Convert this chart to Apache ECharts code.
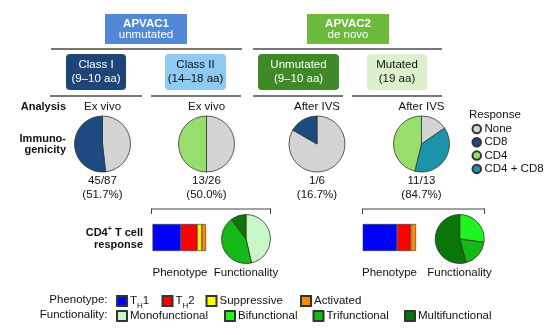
<!DOCTYPE html>
<html><head><meta charset="utf-8">
<script src="https://cdn.jsdelivr.net/npm/echarts@6/dist/echarts.min.js"></script>
<style>html,body{margin:0;padding:0;background:#fff}#c{width:554px;height:335px}</style>
</head><body><div id="c"></div>
<script>
// ---------- data ----------
const vaccines = ['APVAC1', 'APVAC2'];
const vaccineSubs = ['unmutated', 'de novo'];
const groupTitles = ['Class I', 'Class II', 'Unmutated', 'Mutated'];
const groupLengths = ['(9–10 aa)', '(14–18 aa)', '(9–10 aa)', '(19 aa)'];
const analysisLabels = ['Ex vivo', 'Ex vivo', 'After IVS', 'After IVS'];
const fractionLabels = ['45/87', '13/26', '1/6', '11/13'];
const percentLabels = ['(51.7%)', '(50.0%)', '(16.7%)', '(84.7%)'];

const responseNames = ['None', 'CD8', 'CD4', 'CD4 + CD8'];
// slices listed clockwise from 12 o'clock
const classINames = ['None', 'CD8'];
const classIValues = [42, 45];
const classIINames = ['None', 'CD4'];
const classIIValues = [13, 13];
const unmutatedNames = ['None', 'CD8'];
const unmutatedValues = [5, 1];
const mutatedNames = ['None', 'CD4 + CD8', 'CD4'];
const mutatedValues = [2, 5, 6];

const phenotypeNames = ['TH1', 'TH2', 'Suppressive', 'Activated'];
const phenotypeClassII = [52.9, 30.9, 8.2, 8.0];
const phenotypeMutated = [64.4, 25.6, 0, 10.0];

const functionalityNames = ['Monofunctional', 'Bifunctional', 'Trifunctional', 'Multifunctional'];
const funcClassIINames = ['Monofunctional', 'Trifunctional', 'Multifunctional'];
const funcClassIIValues = [46.4, 43.3, 10.3];
const funcMutatedNames = ['Bifunctional', 'Trifunctional', 'Multifunctional'];
const funcMutatedValues = [27.2, 18.6, 54.2];

// ---------- styles ----------
const FONT = '"Liberation Sans", Arial, Helvetica, sans-serif';
const colors = {
  'None': '#d4d4d4', 'CD8': '#1d4a80', 'CD4': '#98de6c', 'CD4 + CD8': '#1a93ab',
  'TH1': '#0000ff', 'TH2': '#ff0000', 'Suppressive': '#ffff00', 'Activated': '#ff8a00',
  'Monofunctional': '#c8f7c8', 'Bifunctional': '#1ef51e', 'Trifunctional': '#15b915', 'Multifunctional': '#0a760a'
};
const EDGE = '#333';

const chart = echarts.init(document.getElementById('c'), null, {renderer: 'canvas', width: 554, height: 335});

function pieSeries(names, values, cx, cy, r) {
  return {
    type: 'pie', radius: r, center: [cx, cy], startAngle: 90, clockwise: true,
    silent: true, animation: false, label: {show: false}, labelLine: {show: false},
    itemStyle: {borderColor: EDGE, borderWidth: 0.8},
    emphasis: {disabled: true},
    data: names.map((n, i) => ({name: n, value: values[i], itemStyle: {color: colors[n]}}))
  };
}
function barSeries(values, gridIdx) {
  return phenotypeNames.map((n, i) => ({
    type: 'bar', name: n, stack: 'p' + gridIdx, xAxisIndex: gridIdx, yAxisIndex: gridIdx,
    barWidth: '100%', silent: true, animation: false,
    itemStyle: {color: colors[n], borderColor: EDGE, borderWidth: 0.6},
    data: [values[i] > 0 ? values[i] : '-']
  }));
}

const pieX = [102.5, 206.5, 317, 421.5];
const pieY = 144;
const series = [
  pieSeries(classINames, classIValues, pieX[0], pieY, 28),
  pieSeries(classIINames, classIIValues, pieX[1], pieY, 28),
  pieSeries(unmutatedNames, unmutatedValues, pieX[2], pieY, 28),
  pieSeries(mutatedNames, mutatedValues, pieX[3], pieY, 28),
  pieSeries(funcClassIINames, funcClassIIValues, 246, 239, 24.5),
  pieSeries(funcMutatedNames, funcMutatedValues, 459.7, 239, 24.5),
  ...barSeries(phenotypeClassII, 0),
  ...barSeries(phenotypeMutated, 1)
];

// ---------- graphic (layout text / boxes / rules) ----------
const g = [];
function txt(x, y, text, opt = {}) {
  g.push({type: 'text', x: x, y: y, silent: true, style: Object.assign({
    text: text, fill: opt.fill || '#111', font: (opt.weight || 'normal') + ' ' + (opt.size || 11.5) + 'px ' + FONT,
    align: opt.align || 'center', verticalAlign: 'middle'
  }, opt.rich ? {rich: opt.rich} : {})});
}
function rect(x, y, w, h, fill, r = 0) {
  g.push({type: 'rect', silent: true, shape: {x, y, width: w, height: h, r}, style: {fill}});
}
function line(x1, y1, x2, y2, stroke = '#4a4a4a', w = 1.5) {
  g.push({type: 'line', silent: true, shape: {x1, y1, x2, y2}, style: {stroke, lineWidth: w}});
}
// vaccine headers
rect(105, 14, 82, 30, '#5289d6');
rect(307, 14, 82, 30, '#6cbb3c');
txt(146, 23.5, vaccines[0], {fill: '#fff', weight: 'bold', size: 11.5});
txt(146, 35, vaccineSubs[0], {fill: '#fff'});
txt(348, 23.5, vaccines[1], {fill: '#fff', weight: 'bold', size: 11.5});
txt(348, 35, vaccineSubs[1], {fill: '#fff'});
line(51, 49, 242, 49);
line(253, 49, 442, 49);
// group boxes
const gbx = [[66, 60, '#1e4577', '#fff'], [165, 61, '#8fcaf2', '#111'], [258, 81, '#3f8a26', '#fff'], [367, 60, '#dcf0cd', '#111']];
gbx.forEach((b, i) => {
  rect(b[0], 54, b[1], 36, b[2], 4);
  txt(b[0] + b[1] / 2, 65, groupTitles[i], {fill: b[3]});
  txt(b[0] + b[1] / 2, 78.5, groupLengths[i], {fill: b[3]});
});
line(50, 96, 142, 96); line(151, 96, 241, 96); line(253, 96, 343, 96); line(352, 96, 442, 96);
// row labels
txt(66, 106.5, 'Analysis', {weight: 'bold', size: 11, align: 'right'});
txt(66, 138.5, 'Immuno-', {weight: 'bold', size: 11, align: 'right'});
txt(66, 150, 'genicity', {weight: 'bold', size: 11, align: 'right'});
pieX.forEach((x, i) => {
  txt(x, 106.5, analysisLabels[i]);
  txt(x, 181, fractionLabels[i]);
  txt(x, 194.5, percentLabels[i]);
});
// response legend title
txt(469, 115, 'Response', {align: 'left'});
// brackets
[[151.5, 270.5], [362.5, 484.5]].forEach(b => {
  line(b[0], 209, b[1], 209, '#444', 1);
  line(b[0], 208.5, b[0], 214, '#444', 1);
  line(b[1], 208.5, b[1], 214, '#444', 1);
});
// CD4 T cell response
g.push({type: 'text', x: 143, y: 233, silent: true, style: {
  text: '{b|CD4}{sup|+}{b| T cell}', align: 'right', verticalAlign: 'middle',
  rich: {b: {font: 'bold 11px ' + FONT, fill: '#111', lineHeight: 14},
         sup: {font: 'bold 7px ' + FONT, fill: '#111', verticalAlign: 'top', lineHeight: 14}}
}});
txt(143, 244.5, 'response', {weight: 'bold', size: 11, align: 'right'});
txt(180, 273, 'Phenotype'); txt(246, 273, 'Functionality');
txt(389.5, 273, 'Phenotype'); txt(459.5, 273, 'Functionality');
// bottom legend labels
txt(107.5, 300, 'Phenotype:', {align: 'right'});
txt(107.5, 315, 'Functionality:', {align: 'right'});

// ---------- legends ----------
const legends = [{
  orient: 'vertical', left: 471.5, top: 123, padding: 0, itemGap: 1.3,
  itemWidth: 8.5, itemHeight: 8.5, icon: 'circle', selectedMode: false,
  data: responseNames,
  textStyle: {fontFamily: FONT, fontSize: 11.5, color: '#111', lineHeight: 12, padding: [0, 0, 0, -1.5]}
}];
const richTH = {n: {fontFamily: FONT, fontSize: 11.5, color: '#111', lineHeight: 14},
  s: {fontFamily: FONT, fontSize: 8, color: '#111', lineHeight: 14, verticalAlign: 'bottom', padding: [0, 0, -2, 0]}};
const phenoLegendX = [116, 161.5, 205.5, 300];
phenotypeNames.forEach((n, i) => legends.push({
  left: phenoLegendX[i], top: 295, padding: 0, itemWidth: 10, itemHeight: 10, icon: 'rect', selectedMode: false,
  data: [n],
  formatter: nm => nm === 'TH1' ? '{n|T}{s|H}{n|1}' : nm === 'TH2' ? '{n|T}{s|H}{n|2}' : '{n|' + nm + '}',
  textStyle: {fontFamily: FONT, fontSize: 11.5, color: '#111', padding: [0, 0, 0, -2], rich: richTH}
}));
const funcLegendX = [116, 224, 312.5, 404];
functionalityNames.forEach((n, i) => legends.push({
  left: funcLegendX[i], top: 310, padding: 0, itemWidth: 10, itemHeight: 10, icon: 'rect', selectedMode: false,
  data: [n],
  textStyle: {fontFamily: FONT, fontSize: 11.5, color: '#111', padding: [0, 0, 0, -2]}
}));

chart.setOption({
  animation: false,
  backgroundColor: '#fff',
  grid: [
    {left: 152.5, top: 224, width: 53.5, height: 27, containLabel: false},
    {left: 362.7, top: 224, width: 53.3, height: 27, containLabel: false}
  ],
  xAxis: [
    {type: 'value', gridIndex: 0, min: 0, max: 100, show: false},
    {type: 'value', gridIndex: 1, min: 0, max: 100, show: false}
  ],
  yAxis: [
    {type: 'category', gridIndex: 0, data: ['Class II'], show: false},
    {type: 'category', gridIndex: 1, data: ['Mutated'], show: false}
  ],
  legend: legends,
  series: series,
  graphic: g
});
</script></body></html>
